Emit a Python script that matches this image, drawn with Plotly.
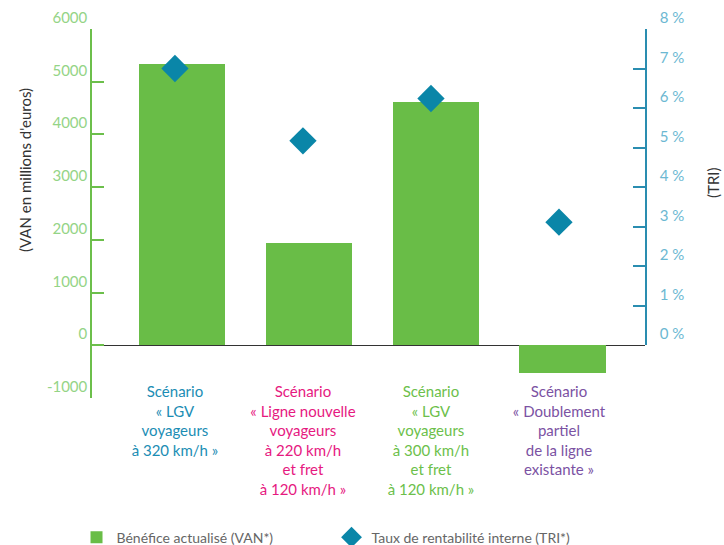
import plotly.graph_objects as go

categories = ["S1", "S2", "S3", "S4"]
tick_lines = [
    ["Scénario", "«\u00a0LGV", "voyageurs", "à 320\u00a0km/h\u00a0»"],
    ["Scénario", "«\u00a0Ligne nouvelle", "voyageurs", "à 220\u00a0km/h", "et fret", "à 120\u00a0km/h\u00a0»"],
    ["Scénario", "«\u00a0LGV", "voyageurs", "à 300\u00a0km/h", "et fret", "à 120\u00a0km/h\u00a0»"],
    ["Scénario", "«\u00a0Doublement", "partiel", "de la ligne", "existante\u00a0»"],
]
label_colors = ["#1b8db4", "#e6197f", "#6cbf4b", "#7b52a3"]
van_values = [5330, 1940, 4610, -530]
tri_values = [7.0, 5.17, 6.24, 3.11]
left_ticks = [-1000, 0, 1000, 2000, 3000, 4000, 5000, 6000]
right_ticks = [0, 1, 2, 3, 4, 5, 6, 7, 8]

ticktext = []
for lines, col in zip(tick_lines, label_colors):
    ticktext.append("<br>".join(f"<span style='color:{col}'>{l}</span>" for l in lines))

FONT = "Lato"
fig = go.Figure()
fig.add_trace(go.Bar(
    x=categories, y=van_values, name="Bénéfice actualisé (VAN*)",
    marker=dict(color="#69bd47", line=dict(width=0)), width=0.68,
    xaxis="x", yaxis="y",
))
fig.add_trace(go.Scatter(
    x=categories, y=tri_values, name="Taux de rentabilité interne (TRI*)",
    mode="markers", marker=dict(symbol="diamond", size=21, color="#0a86a8"),
    xaxis="x2", yaxis="y2", cliponaxis=False,
))

fig.update_layout(
    width=724, height=545,
    margin=dict(l=92, r=79, t=29, b=147, autoexpand=False),
    plot_bgcolor="rgba(0,0,0,0)", paper_bgcolor="white",
    font=dict(family=FONT, size=15, color="#555"),
    bargap=0,
    xaxis=dict(
        type="category", range=[-0.71, 3.65], tickmode="array",
        tickvals=categories, showticklabels=False, showline=False, showgrid=False,
        ticks="", anchor="y", automargin=False,
    ),
    xaxis2=dict(
        type="category", range=[-0.648, 3.672], tickmode="array",
        tickvals=categories, ticktext=ticktext, showline=False, showgrid=False,
        ticks="", ticklabelstandoff=-17, tickfont=dict(size=15, family=FONT),
        overlaying="x", side="bottom", anchor="y", automargin=False,
    ),
    yaxis=dict(
        range=[-1000, 6000], tickmode="array", tickvals=left_ticks,
        ticktext=[str(v) for v in left_ticks], showgrid=False,
        showline=True, linecolor="#6cbf4b", linewidth=1.5,
        ticks="inside", ticklen=12, tickcolor="#6cbf4b", tickwidth=1.5,
        tickfont=dict(color="#94d486", size=15, family=FONT),
        ticklabelposition="outside top",
        zeroline=True, zerolinecolor="#333", zerolinewidth=1.2,
        anchor="x", automargin=False,
    ),
    yaxis2=dict(
        domain=[53 / 369, 1], range=[0, 8], tickmode="array", tickvals=right_ticks,
        ticktext=[f"{v}\u00a0%" for v in right_ticks],
        side="right", anchor="x2", showgrid=False,
        showline=True, linecolor="#2a8db0", linewidth=1.5,
        ticks="inside", ticklen=12, tickcolor="#2a8db0", tickwidth=1.5,
        tickfont=dict(color="#6cb8d2", size=15, family=FONT),
        ticklabelposition="outside top", ticklabelstandoff=10,
        zeroline=False, automargin=False,
    ),
    legend=dict(
        orientation="h", x=-0.028, xanchor="left", y=-0.335, yanchor="top",
        font=dict(size=14, color="#666", family=FONT), entrywidth=210,
        itemsizing="trace",
    ),
    annotations=[
        dict(text="(VAN en millions d'euros)", xref="paper", yref="paper",
             x=-0.121, y=0.618, textangle=-90, showarrow=False,
             xanchor="center", yanchor="middle",
             font=dict(size=15, color="#333", family=FONT)),
        dict(text="(TRI)", xref="paper", yref="paper",
             x=1.123, y=0.583, textangle=-90, showarrow=False,
             xanchor="center", yanchor="middle",
             font=dict(size=15, color="#333", family=FONT)),
    ],
)

fig.write_html("out.html")
